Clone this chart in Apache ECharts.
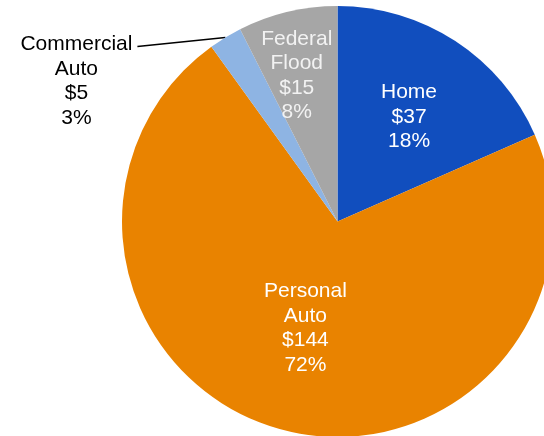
<!DOCTYPE html>
<html>
<head>
<meta charset="utf-8">
<script src="https://cdn.jsdelivr.net/npm/echarts@6/dist/echarts.min.js"></script>
<style>
html,body{margin:0;padding:0;background:#fff;}
#chart{width:544px;height:436px;}
</style>
</head>
<body>
<div id="chart"></div>
<script>
const categories = ['Home', 'Personal Auto', 'Commercial Auto', 'Federal Flood'];
const labelNames = ['Home', 'Personal\nAuto', 'Commercial\nAuto', 'Federal\nFlood'];
const values = [37, 144, 5, 15];
const percentLabels = ['18%', '72%', '3%', '8%'];
const colors = ['#114EBE', '#E98300', '#8EB4E3', '#A6A6A6'];

const FONT = '"Liberation Sans", Arial, sans-serif';

function labelText(i) {
  return labelNames[i] + '\n$' + values[i] + '\n' + percentLabels[i];
}

// Label nudges (relative to the library's own label positions)
const nudges = [[11, -12], [-3, 0], [0, 0], [-15, -38]];

const data = categories.map((c, i) => {
  const item = {
    name: c,
    value: values[i],
    itemStyle: { color: colors[i] }
  };
  if (i === 2) {
    const lines = labelText(i).split('\n');
    item.label = {
      show: true,
      position: 'outside',
      alignTo: 'none',
      formatter: lines.map(l => '{a|' + l + '}').join('\n'),
      color: '#000',
      padding: [72, 0, 0, 0],
      distanceToLabelLine: 3,
      rich: {
        a: { width: 116, align: 'center', fontSize: 21, lineHeight: 24.5, fontFamily: FONT, color: '#000' }
      }
    };
    item.labelLine = { show: true, length: 0, length2: 88, lineStyle: { color: '#000', width: 1.5 } };
  } else {
    item.label = {
      show: true,
      position: 'inside',
      formatter: labelText(i),
      color: i === 3 ? '#F2F2F2' : '#FFFFFF'
    };
    item.labelLine = { show: false };
  }
  return item;
});

const chart = echarts.init(document.getElementById('chart'), null, { renderer: 'canvas' });
chart.setOption({
  animation: false,
  backgroundColor: '#fff',
  series: [{
    type: 'pie',
    center: [337.5, 221.5],
    radius: 215.5,
    startAngle: 90,
    clockwise: true,
    avoidLabelOverlap: false,
    label: {
      fontSize: 21,
      lineHeight: 24.5,
      fontFamily: FONT,
      align: 'center'
    },
    labelLayout: function (p) {
      const n = nudges[p.dataIndex];
      if (p.dataIndex === 2 && p.labelLinePoints) {
        const pts = p.labelLinePoints.map(q => [q[0], q[1]]);
        const last = pts[pts.length - 1];
        last[1] += 9;
        return { dx: 0, dy: 8, labelLinePoints: pts };
      }
      return { dx: n[0], dy: n[1] };
    },
    itemStyle: { borderWidth: 0 },
    emphasis: { disabled: true },
    data: data
  }]
});
</script>
</body>
</html>
